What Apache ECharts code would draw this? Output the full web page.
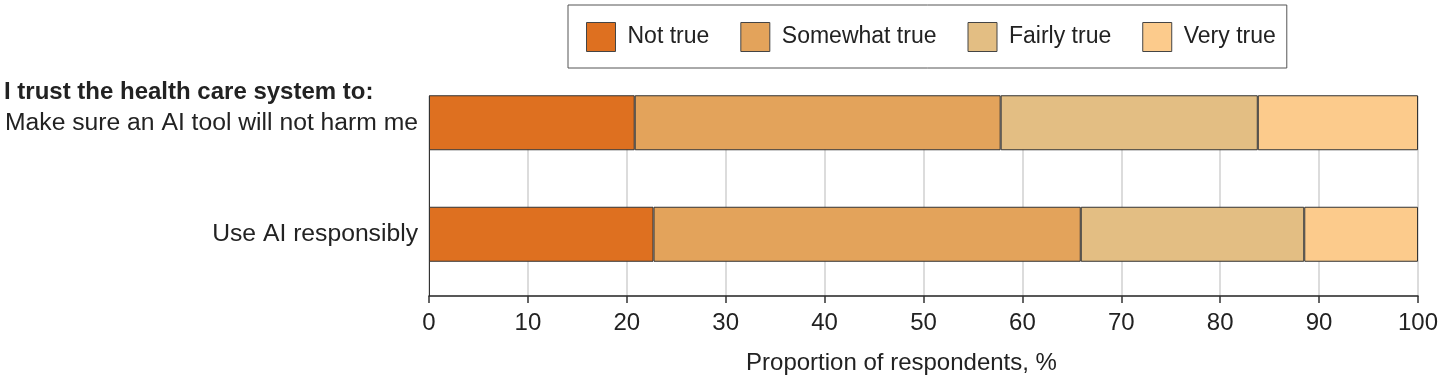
<!DOCTYPE html>
<html>
<head>
<meta charset="utf-8">
<script src="https://cdn.jsdelivr.net/npm/echarts@6/dist/echarts.min.js"></script>
<style>
html,body{margin:0;padding:0;background:#fff;}
#chart{width:1443px;height:382px;}
</style>
</head>
<body>
<div id="chart"></div>
<script>
// ---- data ----
const categories = ['Make sure an AI tool will not harm me', 'Use AI responsibly'];
const seriesNames = ['Not true', 'Somewhat true', 'Fairly true', 'Very true'];
const notTrue = [20.8, 22.7];
const somewhatTrue = [37.0, 43.2];
const fairlyTrue = [26.0, 22.6];
const veryTrue = [16.2, 11.5];
const xMin = 0, xMax = 100, xInterval = 10;
const headingText = 'I trust the health care system to:';
const xAxisTitle = 'Proportion of respondents, %';

const colors = ['#DE7020', '#E3A35B', '#E3BE83', '#FCCB8C'];
const values = [notTrue, somewhatTrue, fairlyTrue, veryTrue];
const FONT = '"Liberation Sans", Arial, sans-serif';

const chart = echarts.init(document.getElementById('chart'), null, {renderer: 'canvas'});

const series = seriesNames.map((name, i) => ({
  name: name,
  type: 'bar',
  stack: 'total',
  xAxisIndex: 0,
  yAxisIndex: 0,
  barWidth: 55,
  data: values[i],
  itemStyle: {color: colors[i], borderColor: '#333', borderWidth: 1},
  emphasis: {disabled: true}
}));

chart.setOption({
  animation: false,
  textStyle: {fontFamily: FONT},
  title: {
    text: headingText,
    left: 4,
    top: 80,
    padding: 0,
    textStyle: {fontFamily: FONT, fontSize: 24, fontWeight: 'bold', color: '#222'}
  },
  legend: {
    data: seriesNames,
    left: 568,
    top: 5,
    padding: [17, 11, 16, 18],
    itemGap: 31,
    itemWidth: 29,
    itemHeight: 29,
    borderColor: '#555',
    borderWidth: 1,
    icon: 'rect',
    itemStyle: {borderColor: '#444', borderWidth: 1},
    textStyle: {fontFamily: FONT, fontSize: 23, color: '#222', padding: [0, 0, 0, 7]}
  },
  grid: [
    {left: 429, right: 25, top: 67, bottom: 92, containLabel: false},
    {left: 429, right: 25, top: 96, bottom: 86, containLabel: false}
  ],
  xAxis: [
    {type: 'value', gridIndex: 0, min: xMin, max: xMax, interval: xInterval, show: false},
    {
      type: 'value', gridIndex: 1, min: xMin, max: xMax, interval: xInterval,
      axisLine: {show: true, lineStyle: {color: '#222', width: 1.5}},
      axisTick: {show: true, length: 7, lineStyle: {color: '#333', width: 1.5}},
      splitLine: {show: true, lineStyle: {color: '#dcdcdc', width: 2}},
      axisLabel: {fontFamily: FONT, fontSize: 24, color: '#222', margin: 15},
      name: xAxisTitle,
      nameLocation: 'middle',
      nameGap: 55,
      nameTextStyle: {fontFamily: FONT, fontSize: 24, color: '#222', padding: [0, 44, 0, 0]}
    }
  ],
  yAxis: [
    {
      type: 'category', gridIndex: 0, data: categories, inverse: true,
      axisLine: {show: false}, axisTick: {show: false}, splitLine: {show: false},
      axisLabel: {fontFamily: FONT, fontSize: 24.7, color: '#222', margin: 11}
    },
    {
      type: 'value', gridIndex: 1, min: 0, max: 1,
      axisLine: {show: true, lineStyle: {color: '#333', width: 1}},
      axisTick: {show: false}, axisLabel: {show: false}, splitLine: {show: false}
    }
  ],
  series: series
});
</script>
</body>
</html>
